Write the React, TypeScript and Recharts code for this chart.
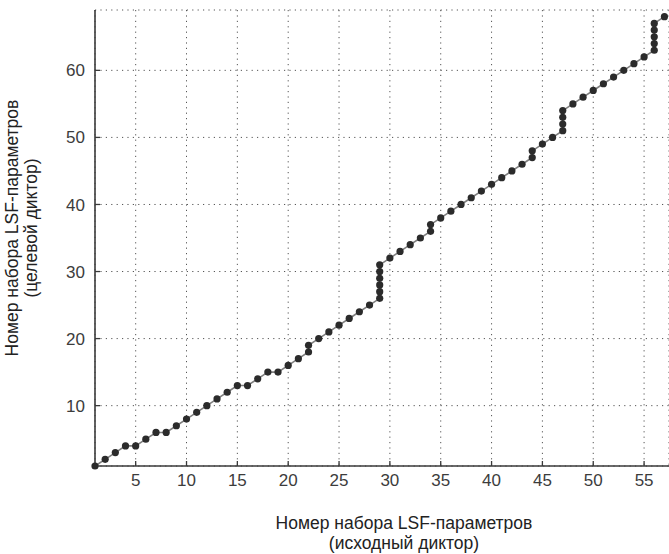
import React from 'react';
import { LineChart, Line, XAxis, YAxis, CartesianGrid } from 'recharts';

// Source speaker LSF-set index (x) and matched target speaker LSF-set index (y)
const sourceIdx = [
  1, 2, 3, 4, 5, 6, 7, 8, 9, 10,
  11, 12, 13, 14, 15, 16, 17, 18, 19, 20,
  21, 22, 22, 23, 24, 25, 26, 27, 28,
  29, 29, 29, 29, 29, 29,
  30, 31, 32, 33, 34, 34, 35, 36, 37, 38, 39, 40, 41, 42, 43,
  44, 44, 45, 46, 47, 47, 47, 47,
  48, 49, 50, 51, 52, 53, 54, 55,
  56, 56, 56, 56, 56, 57,
];
const targetIdx = [
  1, 2, 3, 4, 4, 5, 6, 6, 7, 8,
  9, 10, 11, 12, 13, 13, 14, 15, 15, 16,
  17, 18, 19, 20, 21, 22, 23, 24, 25,
  26, 27, 28, 29, 30, 31,
  32, 33, 34, 35, 36, 37, 38, 39, 40, 41, 42, 43, 44, 45, 46,
  47, 48, 49, 50, 51, 52, 53, 54,
  55, 56, 57, 58, 59, 60, 61, 62,
  63, 64, 65, 66, 67, 68,
];

const xTicks = [5, 10, 15, 20, 25, 30, 35, 40, 45, 50, 55];
const yTicks = [10, 20, 30, 40, 50, 60];
const xDomain = [1, 57.45];
const yDomain = [1, 69];

const xTitle = ['Номер набора LSF-параметров', '(исходный диктор)'];
const yTitle = ['Номер набора LSF-параметров', '(целевой диктор)'];

const data = sourceIdx.map((s, i) => ({ s, t: targetIdx[i] }));

const FONT = '"Liberation Sans", Arial, sans-serif';
const AXIS_COLOR = '#3a3a3a';
const TEXT_COLOR = '#3c3c3c';

export default function App() {
  return (
    <div style={{ position: 'relative', width: 669, height: 554, fontFamily: FONT, overflow: 'hidden' }}>
      <style>{'html,body{margin:0;padding:0;overflow:hidden;background:#fff}'}</style>
      <LineChart
        width={669}
        height={554}
        data={data}
        margin={{ top: 10, right: 0, left: 0, bottom: 0 }}
      >
        <CartesianGrid
          stroke="#555"
          strokeDasharray="1.2 4.2"
          strokeWidth={1}
        />
        <XAxis
          dataKey="s"
          type="number"
          domain={xDomain}
          ticks={xTicks}
          height={88}
          tickSize={-5}
          tickMargin={13}
          axisLine={{ stroke: AXIS_COLOR, strokeWidth: 1.6 }}
          tickLine={{ stroke: AXIS_COLOR, strokeWidth: 1.3 }}
          tick={{ fill: TEXT_COLOR, fontSize: 17, fontFamily: FONT }}
        />
        <XAxis
          xAxisId="top"
          orientation="top"
          dataKey="s"
          type="number"
          domain={xDomain}
          ticks={xTicks}
          height={0}
          tickSize={-4}
          tick={false}
          axisLine={{ stroke: '#555', strokeWidth: 1.8 }}
          tickLine={{ stroke: '#555', strokeWidth: 1.2 }}
        />
        <YAxis
          type="number"
          domain={yDomain}
          ticks={yTicks}
          width={95}
          tickSize={-5}
          tickMargin={15}
          axisLine={{ stroke: AXIS_COLOR, strokeWidth: 1.6 }}
          tickLine={{ stroke: AXIS_COLOR, strokeWidth: 1.3 }}
          tick={{ fill: TEXT_COLOR, fontSize: 17, fontFamily: FONT }}
        />
        <Line
          type="linear"
          dataKey="t"
          stroke="#7f7f7f"
          strokeWidth={1.6}
          dot={{ r: 3.6, fill: '#2b2b2b', stroke: 'none' }}
          activeDot={false}
          isAnimationActive={false}
        />
      </LineChart>
      <div
        style={{
          position: 'absolute',
          left: 204,
          top: 513,
          width: 400,
          textAlign: 'center',
          fontSize: 17.5,
          lineHeight: '20px',
          color: '#222',
          whiteSpace: 'nowrap',
        }}
      >
        <div>{xTitle[0]}</div>
        <div>{xTitle[1]}</div>
      </div>
      <div
        style={{
          position: 'absolute',
          left: -128.5,
          top: 209,
          width: 300,
          height: 38,
          textAlign: 'center',
          fontSize: 17.5,
          lineHeight: '19px',
          color: '#222',
          whiteSpace: 'nowrap',
          transform: 'rotate(-90deg)',
        }}
      >
        <div>{yTitle[0]}</div>
        <div>{yTitle[1]}</div>
      </div>
    </div>
  );
}
